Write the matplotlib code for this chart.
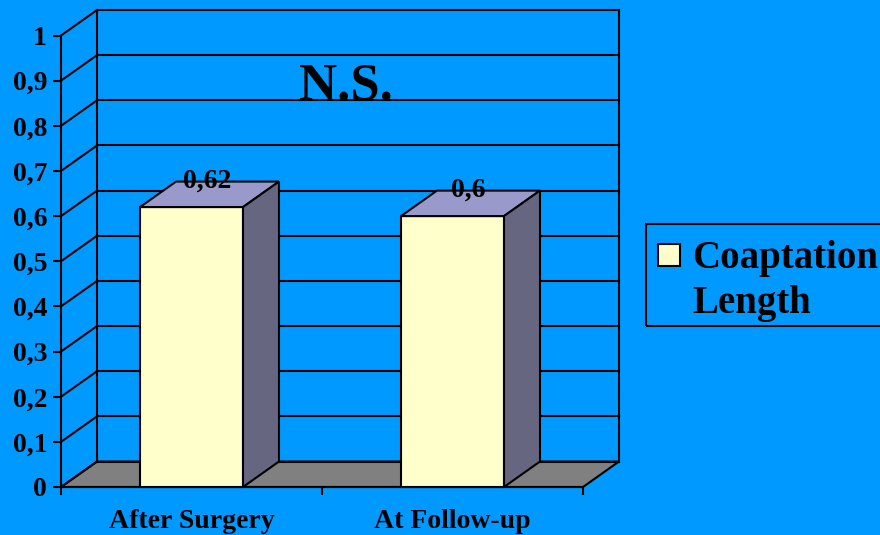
import matplotlib.pyplot as plt
from matplotlib.patches import Polygon, Rectangle
import numpy as np

# data
categories = ['After Surgery', 'At Follow-up']
values = [0.62, 0.6]
value_labels = ['0,62', '0,6']
ytick_values = [0, 0.1, 0.2, 0.3, 0.4, 0.5, 0.6, 0.7, 0.8, 0.9, 1.0]
ytick_labels = ['0', '0,1', '0,2', '0,3', '0,4', '0,5', '0,6', '0,7', '0,8', '0,9', '1']
series_name = ['Coaptation', 'Length']
title = 'N.S.'

# colours
bg = '#0099FF'
front_col = '#FFFFCC'
top_col = '#9999CC'
side_col = '#666680'
floor_col = '#808080'

plt.rcParams['font.family'] = ['Liberation Serif', 'DejaVu Serif']
plt.rcParams['font.weight'] = 'bold'

W, H = 880, 535
fig = plt.figure(figsize=(W / 100, H / 100), dpi=100, facecolor=bg)
ax = fig.add_axes([61 / W, 48 / H, 522 / W, 451.5 / H])
ax.set_facecolor('none')
ax.set_xlim(-0.5, 1.5)
ax.set_ylim(0, 1)

# 3d depth offsets in data units
dx = 36 / 522 * 2
dy = 25.5 / 451.5
half_w = 51.5 / 261
lw = 1.5

# floor
floor = Polygon([(-0.5, 0), (1.5, 0), (1.5 + dx, dy), (-0.5 + dx, dy)],
                closed=True, facecolor=floor_col, edgecolor='black', lw=lw,
                clip_on=False, zorder=1)
ax.add_patch(floor)

# walls: gridlines on back wall, diagonals on left wall
for v in ytick_values:
    ax.plot([-0.5 + dx, 1.5 + dx], [v + dy, v + dy], color='black', lw=lw,
            clip_on=False, zorder=1.5)
    ax.plot([-0.5, -0.5 + dx], [v, v + dy], color='black', lw=lw,
            clip_on=False, zorder=1.5)
for xb in [-0.5 + dx, 1.5 + dx]:
    ax.plot([xb, xb], [dy, 1 + dy], color='black', lw=lw, clip_on=False, zorder=1.5)

# bars
for i, v in enumerate(values):
    x0, x1 = i - half_w, i + half_w
    ax.add_patch(Rectangle((x0, 0), x1 - x0, v, facecolor=front_col,
                           edgecolor='black', lw=lw, clip_on=False, zorder=3))
    ax.add_patch(Polygon([(x0, v), (x1, v), (x1 + dx, v + dy), (x0 + dx, v + dy)],
                         closed=True, facecolor=top_col, edgecolor='black',
                         lw=lw, clip_on=False, zorder=3))
    ax.add_patch(Polygon([(x1, 0), (x1 + dx, dy), (x1 + dx, v + dy), (x1, v)],
                         closed=True, facecolor=side_col, edgecolor='black',
                         lw=lw, clip_on=False, zorder=3))
    ax.text(i + dx / 2 - 0.01, v + dy, value_labels[i], ha='center', va='center',
            fontsize=20, fontweight='bold', zorder=4)

# axes
for s in ['top', 'right']:
    ax.spines[s].set_visible(False)
for s in ['left', 'bottom']:
    ax.spines[s].set_linewidth(lw)
    ax.spines[s].set_zorder(2)
ax.set_yticks(ytick_values)
ax.set_yticklabels(ytick_labels, fontsize=20, fontweight='bold')
ax.tick_params(axis='y', length=6, width=lw, pad=4)
ax.set_xticks(range(len(categories)))
ax.set_xticklabels(categories, fontsize=20, fontweight='bold')
ax.set_xticks([-0.5, 0.5, 1.5], minor=True)
ax.tick_params(axis='x', which='major', length=0, pad=16)
ax.tick_params(axis='x', which='minor', length=6, width=lw)

# title
fig.text(346 / W, 1 - 100 / H, title, ha='center', va='baseline',
         fontsize=38, fontweight='bold')

# legend drawn by hand so the box runs off the right edge
fig.patches.append(Rectangle((646 / W, 1 - 326 / H), 260 / W, 102 / H,
                             transform=fig.transFigure, facecolor='none',
                             edgecolor='black', lw=lw))
fig.patches.append(Rectangle((658 / W, 1 - 266 / H), 22 / W, 22 / H,
                             transform=fig.transFigure, facecolor=front_col,
                             edgecolor='black', lw=lw))
fig.text(692 / W, 1 - 268 / H, series_name[0], ha='left', va='baseline',
         fontsize=28, fontweight='bold')
fig.text(692 / W, 1 - 313 / H, series_name[1], ha='left', va='baseline',
         fontsize=28, fontweight='bold')

fig.savefig('out.png', dpi=100, facecolor=bg)
